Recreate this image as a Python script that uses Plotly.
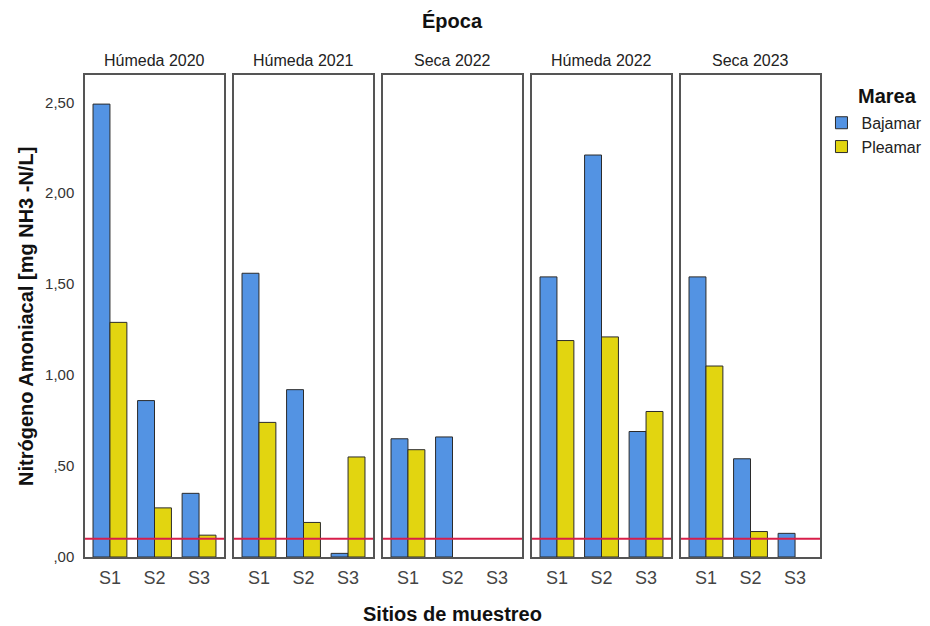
import plotly.graph_objects as go
from plotly.subplots import make_subplots

FONT = "Liberation Sans, Arial, sans-serif"

epocas = ["Húmeda 2020", "Húmeda 2021", "Seca 2022", "Húmeda 2022", "Seca 2023"]
sitios = ["S1", "S2", "S3"]
bajamar = [
    [2.49, 0.86, 0.35],
    [1.56, 0.92, 0.02],
    [0.65, 0.66, None],
    [1.54, 2.21, 0.69],
    [1.54, 0.54, 0.13],
]
pleamar = [
    [1.29, 0.27, 0.12],
    [0.74, 0.19, 0.55],
    [0.59, None, None],
    [1.19, 1.21, 0.80],
    [1.05, 0.14, None],
]
limite = 0.10
ytick_vals = [0.0, 0.5, 1.0, 1.5, 2.0, 2.5]
ytick_text = [",00", ",50", "1,00", "1,50", "2,00", "2,50"]

c_baja = "#5393E3"
c_plea = "#E2D510"

fig = make_subplots(rows=1, cols=5, shared_yaxes=True, horizontal_spacing=10 / 735)

for i, ep in enumerate(epocas):
    col = i + 1
    fig.add_trace(go.Bar(x=sitios, y=bajamar[i], name="Bajamar", marker=dict(color=c_baja, line=dict(color="#2b2b2b", width=1)),
                         showlegend=(i == 0), legendgroup="b"), row=1, col=col)
    fig.add_trace(go.Bar(x=sitios, y=pleamar[i], name="Pleamar", marker=dict(color=c_plea, line=dict(color="#2b2b2b", width=1)),
                         showlegend=(i == 0), legendgroup="p"), row=1, col=col)
    xr = "x" if i == 0 else f"x{col}"
    yr = "y" if i == 0 else f"y{col}"
    fig.add_shape(type="line", xref=f"{xr} domain", yref=yr, x0=0, x1=1, y0=limite, y1=limite,
                  line=dict(color="#D81E4A", width=2), layer="above")
    fig.update_xaxes(row=1, col=col, type="category", range=[-0.56, 2.56], showline=True, mirror=True,
                     linecolor="#555555", linewidth=1.5, showgrid=False, ticks="",
                     tickfont=dict(family=FONT, size=18, color="#444444"), ticklabelstandoff=4)
    fig.update_yaxes(row=1, col=col, range=[0, 2.65], showline=True, mirror=True, linecolor="#555555",
                     linewidth=1.5, showgrid=False, zeroline=False, ticks="",
                     tickvals=ytick_vals, ticktext=ytick_text, showticklabels=(i == 0),
                     tickfont=dict(family=FONT, size=15, color="#333333"), ticklabelstandoff=6)
    dom = fig.layout[f"xaxis{'' if i == 0 else col}"].domain
    fig.add_annotation(text=ep, xref="paper", yref="paper", x=(dom[0] + dom[1]) / 2, y=1.031,
                       xanchor="center", yanchor="middle",
                       showarrow=False, font=dict(family=FONT, size=16, color="#222222"))

fig.add_annotation(text="<b>Época</b>", xref="paper", yref="paper", x=0.5, y=1.112, showarrow=False,
                   xanchor="center", yanchor="middle", font=dict(family=FONT, size=20, color="#111111"))
fig.add_annotation(text="<b>Sitios de muestreo</b>", xref="paper", yref="paper", x=0.5, y=-0.1183,
                   xanchor="center", yanchor="middle",
                   showarrow=False, font=dict(family=FONT, size=20, color="#111111"))
fig.add_annotation(text="<b>Nitrógeno Amoniacal [mg NH3 -N/L]</b>", xref="paper", yref="paper",
                   x=-0.0803, y=0.5, textangle=-90, showarrow=False, xanchor="center", yanchor="middle",
                   font=dict(family=FONT, size=20, color="#111111"))
fig.add_annotation(text="<b>Marea</b>", xref="paper", yref="paper", x=1.0925, y=0.956, showarrow=False,
                   xanchor="center", yanchor="middle", font=dict(family=FONT, size=20, color="#111111"))

fig.update_layout(
    width=922, height=618,
    margin=dict(l=77, r=110, t=67, b=69, autoexpand=False),
    paper_bgcolor="white", plot_bgcolor="white",
    barmode="group", bargap=0.24, bargroupgap=0,
    legend=dict(x=1.002, y=0.936, xanchor="left", yanchor="top", font=dict(family=FONT, size=16, color="#222222"),
                bgcolor="rgba(0,0,0,0)", tracegroupgap=0, itemwidth=30),
    font=dict(family=FONT),
)

fig.write_html("out.html")
